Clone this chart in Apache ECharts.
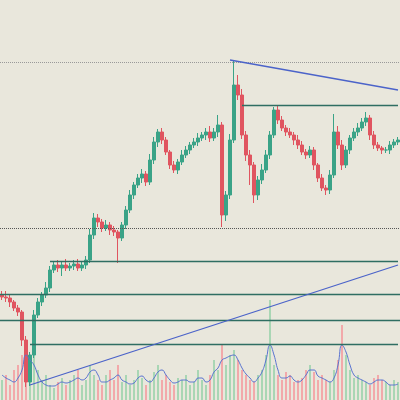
<!DOCTYPE html><html><head><meta charset="utf-8">
<script src="https://cdn.jsdelivr.net/npm/echarts@6/dist/echarts.min.js"></script>
<style>html,body{margin:0;background:#e9e7dc}#c{width:400px;height:400px}</style></head><body><div id="c"></div>
<script>
const closes=[103,102,98,92,88,60,18,45,85,98,105,112,130,135,132,135,132,134,136,132,135,140,165,182,178,172,175,170,168,162,175,190,205,215,222,226,218,240,258,268,260,248,235,230,238,245,250,255,258,262,265,268,262,268,275,185,205,260,315,305,265,245,235,205,220,230,245,265,290,280,272,268,265,260,255,248,245,250,235,222,212,210,225,268,255,235,250,262,268,272,278,282,265,255,252,250,250,255,258,260];
const highWick=[4,6,3,2,3,2,4,3,5,4,3,6,4,3,5,4,6,3,4,5,3,4,6,5,4,3,5,3,4,2,3,4,5,3,4,5,3,6,5,3,4,3,2,4,3,5,4,3,4,5,3,4,6,4,10,3,4,6,25,10,6,4,5,3,4,6,5,4,3,5,4,3,4,3,5,4,3,4,3,2,4,3,5,18,6,5,4,3,4,5,4,6,3,4,3,2,3,4,3,3];
const lowWick=[3,4,5,3,4,6,5,4,3,3,4,3,4,3,4,8,3,3,4,3,3,4,3,4,5,4,3,5,4,25,3,4,3,4,3,5,4,3,4,5,4,3,4,3,4,3,3,4,3,4,3,5,4,3,5,12,6,4,3,5,4,6,20,8,5,4,3,4,3,4,3,4,3,5,4,3,4,3,5,4,3,5,4,3,4,5,3,4,3,4,3,4,5,4,3,4,3,4,3,3];
const volumes=[20,25,15,30,35,45,55,40,60,30,20,25,15,12,18,22,15,20,25,30,15,20,35,25,20,15,25,30,20,35,18,25,15,20,30,22,15,20,28,35,20,25,18,15,22,20,25,15,18,30,20,15,25,40,30,55,35,45,50,40,30,25,20,18,25,30,45,100,35,25,20,28,25,18,20,22,30,35,28,20,25,20,18,30,40,75,45,30,22,25,20,18,15,22,25,20,18,15,20,18];
const volMA=[25,22,20,18,22,30,45,40,35,25,18,15,14,14,16,18,17,18,20,22,20,22,28,30,25,18,18,20,22,25,20,18,16,17,22,24,20,18,22,28,30,25,20,17,18,20,20,18,18,22,22,18,20,28,32,40,42,44,45,40,32,26,22,18,22,28,40,55,45,30,22,22,24,20,18,20,25,30,30,24,22,20,18,22,35,55,48,35,25,22,20,18,16,18,20,20,18,15,15,16];
const cats=closes.map((_,i)=>String(i));
const ohlc=closes.map((c,i)=>{const o=i?closes[i-1]:c+2;return [o,c,Math.min(o,c)-lowWick[i],Math.max(o,c)+highWick[i]];});
const volColors=closes.map((c,i)=>c>=(i?closes[i-1]:c)?'#a9d6b4':'#f2a9aa');
const teal='#2f6e62',blue='#4b63c9';
const chart=echarts.init(document.getElementById('c'));
chart.setOption({backgroundColor:'#e9e7dc',animation:false,
grid:{left:0,right:0,top:0,bottom:0},
xAxis:{type:'category',data:cats,show:false,boundaryGap:true},
yAxis:[{type:'value',min:0,max:400,show:false},{type:'value',min:0,max:400,show:false}],
series:[
{type:'bar',yAxisIndex:1,data:volumes.map((v,i)=>({value:v,itemStyle:{color:volColors[i]}})),barWidth:2},
{type:'line',yAxisIndex:1,data:volMA,symbol:'none',smooth:true,lineStyle:{color:'#5a74d0',width:1}},
{type:'candlestick',data:ohlc,barWidth:3,itemStyle:{color:'#3aa387',color0:'#e05560',borderColor:'#3aa387',borderColor0:'#e05560'},
 markLine:{symbol:'none',silent:true,label:{show:false},data:[
  {yAxis:338,lineStyle:{color:'#999',type:'dotted',width:1}},
  {yAxis:172,lineStyle:{color:'#555',type:'dotted',width:1}},
  {yAxis:106,lineStyle:{color:teal,type:'solid',width:1.3}},
  {yAxis:80,lineStyle:{color:teal,type:'solid',width:1.3}},
  [{coord:['12',139],lineStyle:{color:teal,type:'solid',width:1.3}},{coord:['99',139]}],
  [{coord:['7',56],lineStyle:{color:teal,type:'solid',width:1.3}},{coord:['99',56]}],
  [{coord:['60',295],lineStyle:{color:teal,type:'solid',width:1.3}},{coord:['99',295]}],
  [{coord:['57',340],lineStyle:{color:blue,type:'solid',width:1.3}},{coord:['99',310]}],
  [{coord:['7',15],lineStyle:{color:blue,type:'solid',width:1.3}},{coord:['99',135]}]
 ]}}
]});
</script></body></html>
